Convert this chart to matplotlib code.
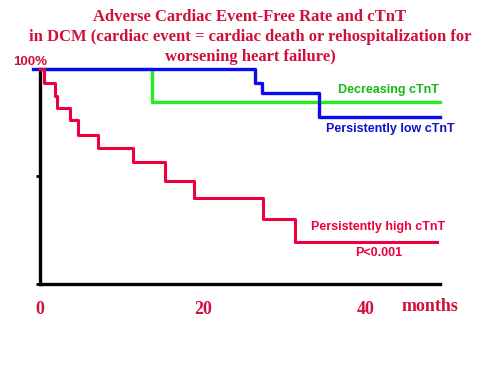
import numpy as np
import matplotlib.pyplot as plt

# Kaplan-Meier style step data (months, % event free)
high_t = [0, 0.5, 1.8, 2.1, 3.7, 4.7, 7.1, 11.4, 15.4, 18.9, 27.4, 31.3, 48.7]
high_s = [100, 93.3, 87.6, 82.0, 76.3, 69.3, 63.1, 56.6, 48.0, 40.1, 30.2, 19.7, 19.7]

low_t = [-0.9, 26.4, 27.3, 34.3, 49.1]
low_s = [100, 93.6, 88.9, 77.8, 77.8]

dec_t = [0, 13.7, 49.1]
dec_s = [100, 84.8, 84.8]

xticks = [0, 20, 40]

title_lines = ['Adverse Cardiac Event-Free Rate and cTnT',
               'in DCM (cardiac event = cardiac death or rehospitalization for',
               'worsening heart failure)']

red = '#EE0040'
crimson = '#D0103A'
blue = '#0A0AEE'
green = '#22EE22'

fig = plt.figure(figsize=(5, 3.75), dpi=100)
ax = fig.add_axes([0.08, 0.2427, 0.8, 0.5733])

ax.step(dec_t, dec_s, where='post', color=green, lw=2.4, clip_on=False, zorder=3)
ax.step(low_t, low_s, where='post', color=blue, lw=2.4, clip_on=False, zorder=4)
ax.step(high_t, high_s, where='post', color=red, lw=2.2, clip_on=False, zorder=5)

ax.set_xlim(0, 49.1)
ax.set_ylim(0, 100)

for s in ['top', 'right']:
    ax.spines[s].set_visible(False)
for s in ['left', 'bottom']:
    ax.spines[s].set_linewidth(2.4)
    ax.spines[s].set_color('black')

ax.set_yticks([0, 50, 100])
ax.set_yticklabels([])
ax.tick_params(axis='y', length=3, width=2, direction='out')

ax.set_xticks(xticks)
ax.set_xticklabels([str(v) for v in xticks], family='Liberation Serif',
                   fontsize=13, fontweight='bold', color=crimson)
ax.tick_params(axis='x', length=0, pad=12)

sans = 'Liberation Sans'
ax.text(-1.2, 100.6, '100%', color=crimson, fontsize=9.5, fontweight='bold',
        family=sans, ha='center', va='bottom', clip_on=False)
ax.text(36.6, 90.2, 'Decreasing cTnT', color='#11BB11', fontsize=9,
        fontweight='bold', family=sans, ha='left', va='center')
ax.text(35.1, 72.0, 'Persistently low cTnT', color='#1010CC', fontsize=9,
        fontweight='bold', family=sans, ha='left', va='center')
ax.text(33.3, 26.3, 'Persistently high cTnT', color=red, fontsize=9,
        fontweight='bold', family=sans, ha='left', va='center')
ax.text(38.7, 14.5, 'P<0.001', color=red, fontsize=9,
        fontweight='bold', family=sans, ha='left', va='center')
ax.text(47.9, -10.7, 'months', color=crimson, fontsize=13, fontweight='bold',
        family='Liberation Serif', ha='center', va='center', clip_on=False)

for i, line in enumerate(title_lines):
    fig.text(0.5, 1 - (17 + 20 * i) / 375, line, color=crimson, fontsize=12,
             fontweight='bold', family='Liberation Serif', ha='center',
             va='center')

fig.savefig('out.png', dpi=100)
